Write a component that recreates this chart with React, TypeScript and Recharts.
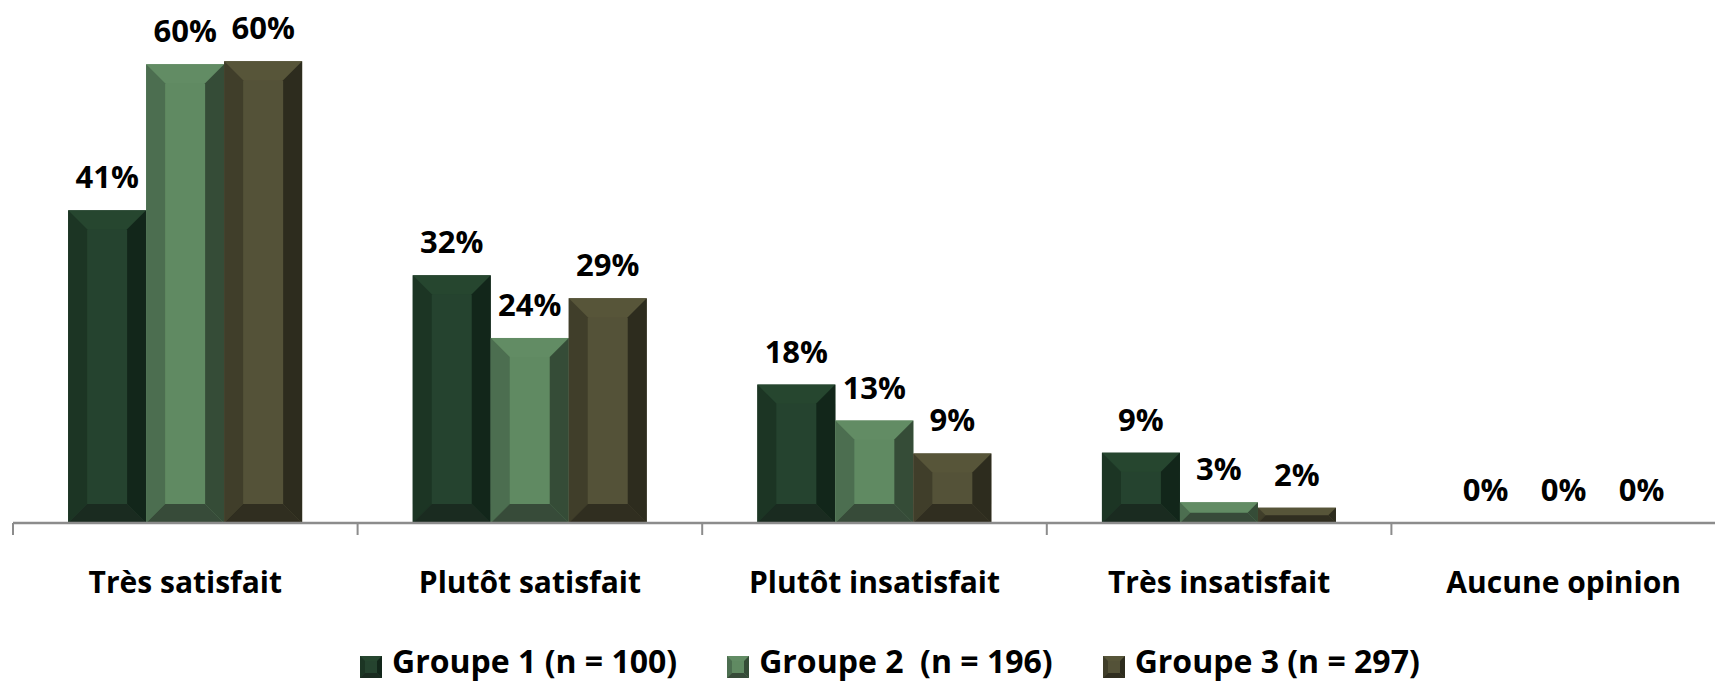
import { BarChart, Bar, XAxis, YAxis, Legend, LabelList } from 'recharts';

const categories = ['Très satisfait', 'Plutôt satisfait', 'Plutôt insatisfait', 'Très insatisfait', 'Aucune opinion'];
const groupe1 = [40.9, 32.4, 18.1, 9.2, 0];
const groupe2 = [60.0, 24.2, 13.4, 2.7, 0];
const groupe3 = [60.4, 29.4, 9.1, 2.0, 0];
const seriesNames = ['Groupe 1 (n = 100)', 'Groupe 2  (n = 196)', 'Groupe 3 (n = 297)'];

// couleurs des biseaux : centre, haut, gauche, droite, bas
const palettes: Record<string, string[]> = {
  g1: ['#25432f', '#26462f', '#1c3524', '#12261a', '#1a2b20'],
  g2: ['#608a62', '#628c64', '#4c6e50', '#354c37', '#374b39'],
  g3: ['#545238', '#575539', '#403e2a', '#2d2c1e', '#302e20'],
};

const data = categories.map((name, i) => ({
  name,
  g1: groupe1[i],
  g2: groupe2[i],
  g3: groupe3[i],
}));

const CHART_W = 1740;
const CHART_H = 683;
const MARGIN = { top: 26, right: 4, left: 13, bottom: 0 };
const HALF_BAND = (CHART_W - MARGIN.left - MARGIN.right) / categories.length / 2;
const FONT = '"Open Sans", "Liberation Sans", sans-serif';
const AXIS_COLOR = '#8c8c8c';

function bevelPolys(x: number, y: number, w: number, h: number, b: number) {
  return {
    top: `${x},${y} ${x + w},${y} ${x + w - b},${y + b} ${x + b},${y + b}`,
    left: `${x},${y} ${x + b},${y + b} ${x + b},${y + h - b} ${x},${y + h}`,
    right: `${x + w},${y} ${x + w},${y + h} ${x + w - b},${y + h - b} ${x + w - b},${y + b}`,
    bottom: `${x},${y + h} ${x + b},${y + h - b} ${x + w - b},${y + h - b} ${x + w},${y + h}`,
  };
}

const BevelBar = (props: any) => {
  const { x, y, width, height, pal } = props;
  if (!height || height <= 0) return null;
  const b = Math.min(19, width / 4, height / 2);
  const p = bevelPolys(x, y, width, height, b);
  return (
    <g>
      <rect x={x} y={y} width={width} height={height} fill={pal[0]} />
      <polygon points={p.top} fill={pal[1]} />
      <polygon points={p.left} fill={pal[2]} />
      <polygon points={p.right} fill={pal[3]} />
      <polygon points={p.bottom} fill={pal[4]} />
    </g>
  );
};

const CategoryTick = (props: any) => {
  const { x, y, payload } = props;
  return (
    <g>
      <line x1={x - HALF_BAND} x2={x - HALF_BAND} y1={y} y2={y + 12} stroke={AXIS_COLOR} strokeWidth={2} />
      <text x={x} y={y + 70} textAnchor="middle" fontFamily={FONT} fontWeight={700} fontSize={30} fill="#000">
        {payload.value}
      </text>
    </g>
  );
};

const LegendIcon = ({ pal }: { pal: string[] }) => {
  const s = 22;
  const p = bevelPolys(0, 0, s, s, 5);
  return (
    <svg width={s} height={s} style={{ display: 'block', marginTop: 15 }}>
      <rect x={0} y={0} width={s} height={s} fill={pal[0]} />
      <polygon points={p.top} fill={pal[1]} />
      <polygon points={p.left} fill={pal[2]} />
      <polygon points={p.right} fill={pal[3]} />
      <polygon points={p.bottom} fill={pal[4]} />
    </svg>
  );
};

const renderLegend = (props: any) => {
  const { payload } = props;
  return (
    <div style={{ height: 40, width: CHART_W, display: 'flex', alignItems: 'flex-start', paddingLeft: 360, boxSizing: 'border-box' }}>
      {(payload || []).map((entry: any) => (
        <div key={entry.dataKey} style={{ display: 'flex', alignItems: 'flex-start', marginRight: 50, marginTop: -2 }}>
          <LegendIcon pal={palettes[entry.dataKey]} />
          <span
            style={{
              marginLeft: 10,
              fontFamily: FONT,
              fontWeight: 700,
              fontSize: 32,
              lineHeight: '40px',
              whiteSpace: 'pre',
              color: '#000',
            }}
          >
            {entry.value}
          </span>
        </div>
      ))}
    </div>
  );
};

const labelStyle = { fontFamily: FONT, fontWeight: 700, fontSize: 31, fill: '#000' };
const formatPct = (v: any) => `${Math.round(Number(v))}%`;

export default function App() {
  const keys = ['g1', 'g2', 'g3'];
  return (
    <div style={{ position: 'absolute', left: 0, top: 0, width: 1715, height: 683, overflow: 'hidden', background: '#fff' }}>
      <BarChart width={CHART_W} height={CHART_H} data={data} margin={MARGIN} barCategoryGap="16%" barGap={0}>
        <YAxis hide domain={[0, 65]} />
        <XAxis
          dataKey="name"
          height={120}
          axisLine={{ stroke: AXIS_COLOR, strokeWidth: 2.5 }}
          tickLine={false}
          tickSize={0}
          tickMargin={0}
          tick={<CategoryTick />}
          interval={0}
        />
        <Legend verticalAlign="bottom" align="left" content={renderLegend} wrapperStyle={{ left: 0, bottom: 0 }} />
        {keys.map((k, i) => (
          <Bar
            key={k}
            dataKey={k}
            name={seriesNames[i]}
            fill={palettes[k][0]}
            shape={<BevelBar pal={palettes[k]} />}
            isAnimationActive={false}
          >
            <LabelList dataKey={k} position="top" offset={22} formatter={formatPct} style={labelStyle} />
          </Bar>
        ))}
      </BarChart>
    </div>
  );
}
